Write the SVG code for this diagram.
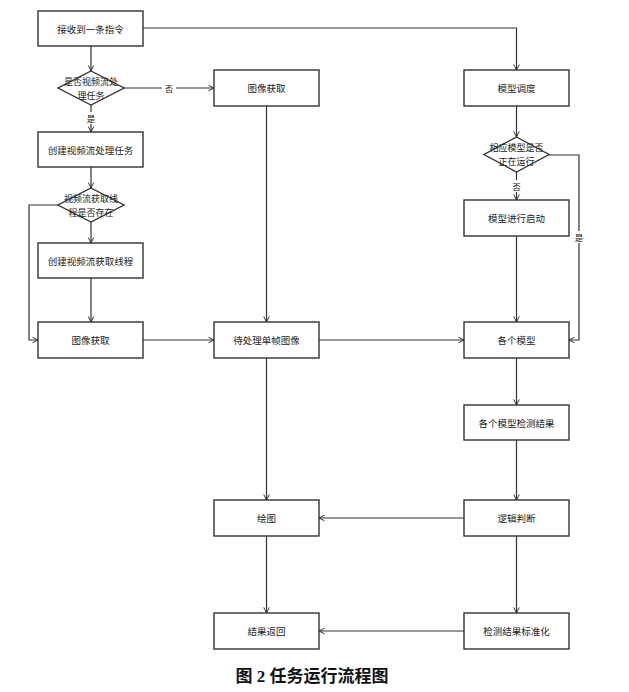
<svg xmlns="http://www.w3.org/2000/svg" width="629" height="692" viewBox="0 0 629 692">
<defs>
<marker id="arr" viewBox="0 0 10 10" refX="9" refY="5" markerWidth="7" markerHeight="7" markerUnits="userSpaceOnUse" orient="auto">
<path d="M1,1 L9,5 L1,9" fill="none" stroke="#222" stroke-width="1.3"/>
</marker>
<style>
.box{fill:#fff;stroke:#333;stroke-width:1.4}
.t{font-family:"Noto Sans CJK SC","Noto Sans",sans-serif;font-size:9.5px;fill:#222;text-anchor:middle;dominant-baseline:central}
.td{font-family:"Noto Sans CJK SC","Noto Sans",sans-serif;font-size:9px;fill:#222;text-anchor:middle;dominant-baseline:central}
.lbl{font-family:"Noto Sans CJK SC","Noto Sans",sans-serif;font-size:8.5px;fill:#222;text-anchor:middle;dominant-baseline:central}
.c{fill:none;stroke:#333;stroke-width:1.2;marker-end:url(#arr)}
.cap{font-family:"Liberation Serif","Noto Sans CJK SC",serif;font-size:17px;font-weight:bold;fill:#111;text-anchor:middle}
</style>
</defs>
<rect width="629" height="692" fill="#fff"/>
<g id="connectors">
<path class="c" d="M91,46 V71"/>
<path class="c" d="M143,28 H516.5 V70"/>
<path class="c" d="M124,88 H214"/>
<path class="c" d="M91,105 V132"/>
<path class="c" d="M91,167 V188"/>
<path class="c" d="M58,205 H29 V340 H38"/>
<path class="c" d="M91,222 V243"/>
<path class="c" d="M91,278 V322"/>
<path class="c" d="M143,340 H214"/>
<path class="c" d="M266.5,106 V322"/>
<path class="c" d="M319,340 H464"/>
<path class="c" d="M266.5,358 V500"/>
<path class="c" d="M266.5,536 V613"/>
<path class="c" d="M516.5,106 V137"/>
<path class="c" d="M516.5,172 V200"/>
<path class="c" d="M549,155 H579 V340 H569"/>
<path class="c" d="M516.5,236 V322"/>
<path class="c" d="M516.5,358 V405"/>
<path class="c" d="M516.5,440 V500"/>
<path class="c" d="M516.5,536 V613"/>
<path class="c" d="M464,518 H319"/>
<path class="c" d="M464,631 H319"/>
<rect x="162" y="82" width="14" height="12" fill="#fff"/>
<text class="lbl" x="169" y="88">否</text>
<rect x="85" y="112" width="12" height="12" fill="#fff"/>
<text class="lbl" x="91" y="118">是</text>
<rect x="510" y="180" width="13" height="12" fill="#fff"/>
<text class="lbl" x="516.5" y="186">否</text>
<rect x="573" y="231" width="12" height="12" fill="#fff"/>
<text class="lbl" x="579" y="237">是</text>
</g>
<g id="n1"><rect class="box" x="38" y="11" width="105" height="35"/><text class="t" x="90.5" y="28.5">接收到一条指令</text></g>
<g id="d1"><polygon class="box" points="91,71 124,88 91,105 58,88"/><text class="td" x="91" y="81">是否视频流处</text><text class="td" x="91" y="95">理任务</text></g>
<g id="n2"><rect class="box" x="38" y="132" width="105" height="35"/><text class="t" x="90.5" y="149.5">创建视频流处理任务</text></g>
<g id="d2"><polygon class="box" points="91,188 124,205 91,222 58,205"/><text class="td" x="91" y="198">视频流获取线</text><text class="td" x="91" y="212">程是否存在</text></g>
<g id="n3"><rect class="box" x="38" y="243" width="105" height="35"/><text class="t" x="90.5" y="260.5">创建视频流获取线程</text></g>
<g id="n4"><rect class="box" x="38" y="322" width="105" height="36"/><text class="t" x="90.5" y="340">图像获取</text></g>
<g id="n5"><rect class="box" x="214" y="70" width="105" height="36"/><text class="t" x="266.5" y="88">图像获取</text></g>
<g id="n6"><rect class="box" x="214" y="322" width="105" height="36"/><text class="t" x="266.5" y="340">待处理单帧图像</text></g>
<g id="n7"><rect class="box" x="214" y="500" width="105" height="36"/><text class="t" x="266.5" y="518">绘图</text></g>
<g id="n8"><rect class="box" x="214" y="613" width="105" height="36"/><text class="t" x="266.5" y="631">结果返回</text></g>
<g id="n9"><rect class="box" x="464" y="70" width="105" height="36"/><text class="t" x="516.5" y="88">模型调度</text></g>
<g id="d3"><polygon class="box" points="516.5,137 549,154.5 516.5,172 484,154.5"/><text class="td" x="516.5" y="147">相应模型是否</text><text class="td" x="516.5" y="161">正在运行</text></g>
<g id="n10"><rect class="box" x="464" y="200" width="105" height="36"/><text class="t" x="516.5" y="218">模型进行启动</text></g>
<g id="n11"><rect class="box" x="464" y="322" width="105" height="36"/><text class="t" x="516.5" y="340">各个模型</text></g>
<g id="n12"><rect class="box" x="464" y="405" width="105" height="35"/><text class="t" x="516.5" y="422.5">各个模型检测结果</text></g>
<g id="n13"><rect class="box" x="464" y="500" width="105" height="36"/><text class="t" x="516.5" y="518">逻辑判断</text></g>
<g id="n14"><rect class="box" x="464" y="613" width="105" height="36"/><text class="t" x="516.5" y="631">检测结果标准化</text></g>
<text class="cap" x="312" y="682">图 2  任务运行流程图</text>
</svg>
